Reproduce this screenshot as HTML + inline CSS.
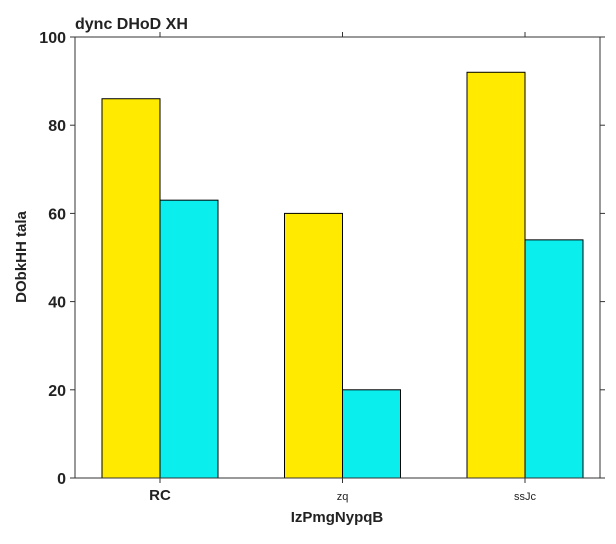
<!DOCTYPE html>
<html><head><meta charset="utf-8"><style>
body{margin:0;background:#fff;}
svg text{font-family:"Liberation Sans",sans-serif;fill:#222;}
</style></head><body>
<svg id="chart" width="616" height="539">
<g id="marks"></g>
<g id="axes"></g>
</svg>
<script>
const categories=["RC","zq","ssJc"];
const seriesA=[86,60,92];
const seriesB=[63,20,54];
const yTicks=[0,20,40,60,80,100];
const NS="http://www.w3.org/2000/svg";
const L=75,R=600,T=37,B=478;
function y(v){return B-(v/100)*(B-T);}
function xc(i){return 160+182.5*i;}
const bw=58;
function mk(tag,attrs,parent,txt){const e=document.createElementNS(NS,tag);for(const k in attrs)e.setAttribute(k,attrs[k]);if(txt!==undefined)e.textContent=txt;parent.appendChild(e);return e;}
const marks=document.getElementById('marks'),axes=document.getElementById('axes');
categories.forEach((c,i)=>{
 const a=mk('rect',{x:xc(i)-bw,y:y(seriesA[i]),width:bw,height:B-y(seriesA[i]),fill:'#ffea00',stroke:'#000','stroke-width':1},marks);
 
 
 const b=mk('rect',{x:xc(i),y:y(seriesB[i]),width:bw,height:B-y(seriesB[i]),fill:'#0aeeee',stroke:'#000','stroke-width':1},marks);
 
 
 mk('line',{x1:xc(i),x2:xc(i),y1:B,y2:B+5,stroke:'#333'},axes);
 mk('line',{x1:xc(i),x2:xc(i),y1:T,y2:T-5,stroke:'#333'},axes);
 const t=mk('text',{x:xc(i),y:B+22,'text-anchor':'middle','font-size':i===0?15:11,'font-weight':i===0?'bold':'normal'},axes,c);
 
 
});
yTicks.forEach(v=>{
 mk('line',{x1:L-5,x2:L,y1:y(v),y2:y(v),stroke:'#333'},axes);
 mk('line',{x1:R,x2:R+5,y1:y(v),y2:y(v),stroke:'#333'},axes);
 const t=mk('text',{x:L-9,y:y(v)+6,'text-anchor':'end','font-size':16,'font-weight':'bold'},axes,String(v));
 
 
});
const f=mk('rect',{x:L,y:T,width:R-L,height:B-T,fill:'none',stroke:'#333','stroke-width':1},axes);


const ti=mk('text',{x:L,y:T-8,'font-size':16,'font-weight':'bold'},axes,'dync DHoD XH');


const xt=mk('text',{x:337,y:522,'text-anchor':'middle','font-size':15,'font-weight':'bold'},axes,'IzPmgNypqB');


const yt=mk('text',{x:26,y:257,'text-anchor':'middle','font-size':15,'font-weight':'bold',transform:'rotate(-90 26 257)'},axes,'DObkHH tala');


</script>
</body></html>
